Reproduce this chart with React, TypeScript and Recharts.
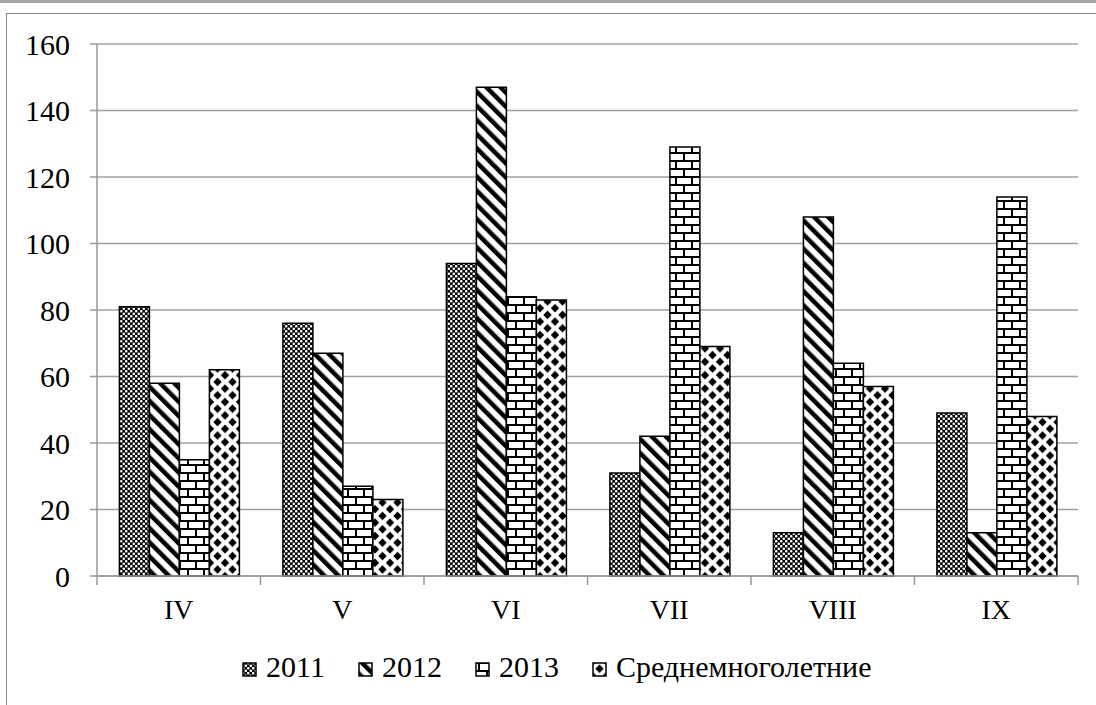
import { BarChart, Bar, XAxis, YAxis, CartesianGrid } from 'recharts';

const months = ['IV', 'V', 'VI', 'VII', 'VIII', 'IX'];
const y2011 = [81, 76, 94, 31, 13, 49];
const y2012 = [58, 67, 147, 42, 108, 13];
const y2013 = [35, 27, 84, 129, 64, 114];
const avgYears = [62, 23, 83, 69, 57, 48];
const yTicks = [0, 20, 40, 60, 80, 100, 120, 140, 160];

const seriesList = [
  { key: 'y2011', name: '2011', fill: 'url(#p2011)' },
  { key: 'y2012', name: '2012', fill: 'url(#p2012)' },
  { key: 'y2013', name: '2013', fill: 'url(#p2013)' },
  { key: 'avg', name: 'Среднемноголетние', fill: 'url(#pAvg)' },
];

const data = months.map((m, i) => ({
  month: m,
  y2011: y2011[i],
  y2012: y2012[i],
  y2013: y2013[i],
  avg: avgYears[i],
}));

const FONT = 'Liberation Serif, Tinos, DejaVu Serif, serif';

const XTick = (props: any) => {
  const { x, y, payload, index } = props;
  const half = payload && payload.offset ? payload.offset : 981 / 12;
  const last = index === months.length - 1;
  return (
    <g>
      <line x1={x - half} x2={x - half} y1={y} y2={y + 9} stroke="#999" strokeWidth={1.5} />
      {last && <line x1={x + half} x2={x + half} y1={y} y2={y + 9} stroke="#999" strokeWidth={1.5} />}
      <text x={x} y={y + 43} textAnchor="middle" fontSize={28} fontFamily={FONT} fill="#000">
        {payload.value}
      </text>
    </g>
  );
};

const LegendBox = () => (
  <div
    style={{
      position: 'absolute',
      left: 242,
      top: 649,
      display: 'flex',
      fontFamily: FONT,
      fontSize: 30,
      color: '#000',
      lineHeight: '36px',
    }}
  >
    {seriesList.map((s, i) => (
      <div key={s.key} style={{ display: 'flex', alignItems: 'center', marginRight: i < seriesList.length - 1 ? 33 : 0 }}>
        <svg width={15} height={15} style={{ marginRight: 9, marginTop: 4 }}>
          <rect x={1} y={1} width={13} height={13} fill={s.fill} stroke="#000" strokeWidth={1.5} />
        </svg>
        <span>{s.name}</span>
      </div>
    ))}
  </div>
);

export default function App() {
  return (
    <div style={{ position: 'fixed', left: 0, top: 0, width: 1096, height: 705, background: '#fff', overflow: 'hidden' }}>
      <div style={{ position: 'absolute', left: 0, top: 0, width: 1096, height: 3, background: '#a6a6a6' }} />
      <div
        style={{
          position: 'absolute',
          left: 6,
          top: 13,
          width: 1100,
          height: 700,
          border: '1.5px solid #8c8c8c',
        }}
      />
      <div style={{ position: 'absolute', left: 0, top: 0 }}>
        <BarChart
          width={1096}
          height={705}
          data={data}
          margin={{ top: 44, right: 18, left: 37, bottom: 89 }}
          barCategoryGap="13.7%"
          barGap={0}
        >
          <defs>
            <pattern id="p2011" width={5} height={5} patternUnits="userSpaceOnUse">
              <rect width={5} height={5} fill="#000" />
              <circle cx={1.25} cy={1.25} r={1.3} fill="#fff" />
              <circle cx={3.75} cy={3.75} r={1.3} fill="#fff" />
            </pattern>
            <pattern id="p2012" width={10} height={10} patternUnits="userSpaceOnUse" patternTransform="rotate(-45)">
              <rect width={10} height={10} fill="#fff" />
              <rect x={0} y={0} width={4.5} height={10} fill="#000" />
            </pattern>
            <pattern id="p2013" width={16} height={16} patternUnits="userSpaceOnUse">
              <rect width={16} height={16} fill="#fff" />
              <rect x={0} y={0} width={16} height={2} fill="#000" />
              <rect x={0} y={8} width={16} height={2} fill="#000" />
              <rect x={3} y={0} width={2} height={8} fill="#000" />
              <rect x={11} y={8} width={2} height={8} fill="#000" />
            </pattern>
            <pattern id="pAvg" width={15} height={13.4} patternUnits="userSpaceOnUse">
              <rect width={15} height={13.4} fill="#fff" />
              <polygon points="7.5,2.5 11.7,6.7 7.5,10.9 3.3,6.7" fill="#000" />
              <polygon points="0,-4.2 4.2,0 0,4.2 -4.2,0" fill="#000" />
              <polygon points="15,-4.2 19.2,0 15,4.2 10.8,0" fill="#000" />
              <polygon points="0,9.2 4.2,13.4 0,17.6 -4.2,13.4" fill="#000" />
              <polygon points="15,9.2 19.2,13.4 15,17.6 10.8,13.4" fill="#000" />
            </pattern>
          </defs>
          <CartesianGrid vertical={false} stroke="#a0a0a0" strokeWidth={1.5} />
          <XAxis
            dataKey="month"
            axisLine={{ stroke: '#999', strokeWidth: 1.5 }}
            tickLine={false}
            tickSize={0}
            tickMargin={0}
            tick={<XTick />}
            interval={0}
            height={40}
          />
          <YAxis
            domain={[0, 160]}
            ticks={yTicks}
            width={60}
            axisLine={{ stroke: '#999', strokeWidth: 1.5 }}
            tickLine={{ stroke: '#999', strokeWidth: 1.5 }}
            tickSize={7}
            tickMargin={20}
            tick={{ fill: '#000', fontSize: 30, fontFamily: FONT }}
          />
          {seriesList.map((s) => (
            <Bar
              key={s.key}
              dataKey={s.key}
              name={s.name}
              fill={s.fill}
              stroke="#000"
              strokeWidth={1.5}
              isAnimationActive={false}
            />
          ))}
        </BarChart>
      </div>
      <LegendBox />
    </div>
  );
}
